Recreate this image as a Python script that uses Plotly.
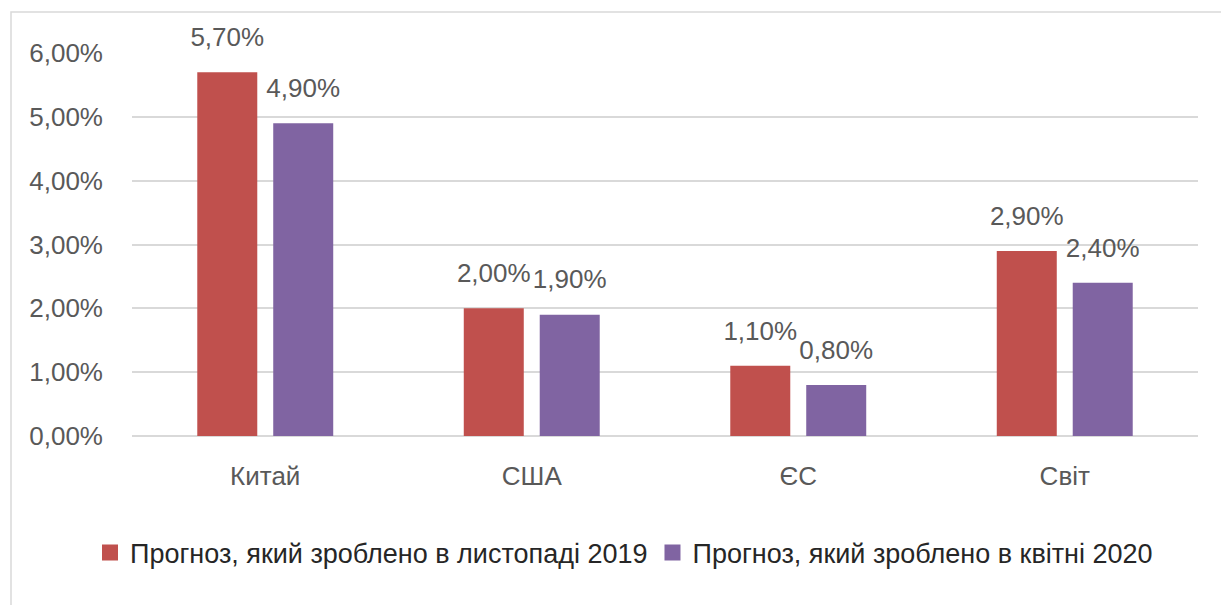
import plotly.graph_objects as go

categories = ["Китай", "США", "ЄС", "Світ"]
series_names = ["Прогноз, який зроблено в листопаді 2019", "Прогноз, який зроблено в квітні 2020"]
forecast_nov_2019 = [0.057, 0.020, 0.011, 0.029]
forecast_apr_2020 = [0.049, 0.019, 0.008, 0.024]
y_ticks = [0, 0.01, 0.02, 0.03, 0.04, 0.05, 0.06]

colors = ["#c0504d", "#8064a2"]
FONT = "Liberation Sans, Arial, sans-serif"

W, H = 1221, 605
ML, MR, MT, MB = 132, 23, 53, 169
PW, PH = W - ML - MR, H - MT - MB
BARGAP = 0.43

def px_x(p):
    return (p - ML) / PW

def px_y(p):
    return (H - MB - p) / PH

fig = go.Figure()
for i, (name, vals, col) in enumerate(zip(series_names, [forecast_nov_2019, forecast_apr_2020], colors)):
    fig.add_trace(go.Bar(
        x=categories, y=vals, name=name, marker=dict(color=col, line=dict(width=0)),
        offsetgroup=str(i), showlegend=False, hoverinfo="skip",
    ))
    fig.add_trace(go.Scatter(
        x=categories, y=vals, mode="markers+text", offsetgroup=str(i),
        marker=dict(size=30, color="rgba(0,0,0,0)"),
        texttemplate="%{y:.2%}", textposition="top center", cliponaxis=False,
        textfont=dict(family=FONT, size=26, color="#595959"),
        showlegend=False, hoverinfo="skip",
    ))
    fig.add_trace(go.Scatter(
        x=[None], y=[None], mode="markers", name=name,
        marker=dict(symbol="square", size=16, color=col), showlegend=True,
    ))

fig.update_layout(
    width=W, height=H,
    margin=dict(l=ML, r=MR, t=MT, b=MB, pad=0),
    paper_bgcolor="white", plot_bgcolor="white",
    separators=", ",
    barmode="group", bargap=BARGAP, bargroupgap=0.21,
    scattermode="group", scattergap=BARGAP,
    font=dict(family=FONT, size=26, color="#595959"),
    xaxis=dict(showgrid=False, showline=False, ticks="", tickfont=dict(size=26, color="#595959"),
               ticklabelstandoff=22),
    yaxis=dict(range=[0, 0.06], tickvals=y_ticks, tickformat=".2%", showgrid=True,
               gridcolor="#d9d9d9", gridwidth=1.5, zeroline=True, zerolinecolor="#d9d9d9",
               zerolinewidth=1.5, showline=False, ticks="", ticklabelstandoff=28,
               tickfont=dict(size=26, color="#595959")),
    legend=dict(orientation="h", x=px_x(90), xanchor="left", y=px_y(553), yanchor="middle",
                font=dict(family=FONT, size=27, color="#262626"), itemwidth=30,
                tracegroupgap=0, bgcolor="rgba(0,0,0,0)"),
    shapes=[dict(type="rect", xref="paper", yref="paper",
                 x0=px_x(11), x1=px_x(1240), y0=px_y(12), y1=px_y(640),
                 line=dict(color="#d9d9d9", width=1.5), layer="below")],
)

fig.write_html("out.html")
